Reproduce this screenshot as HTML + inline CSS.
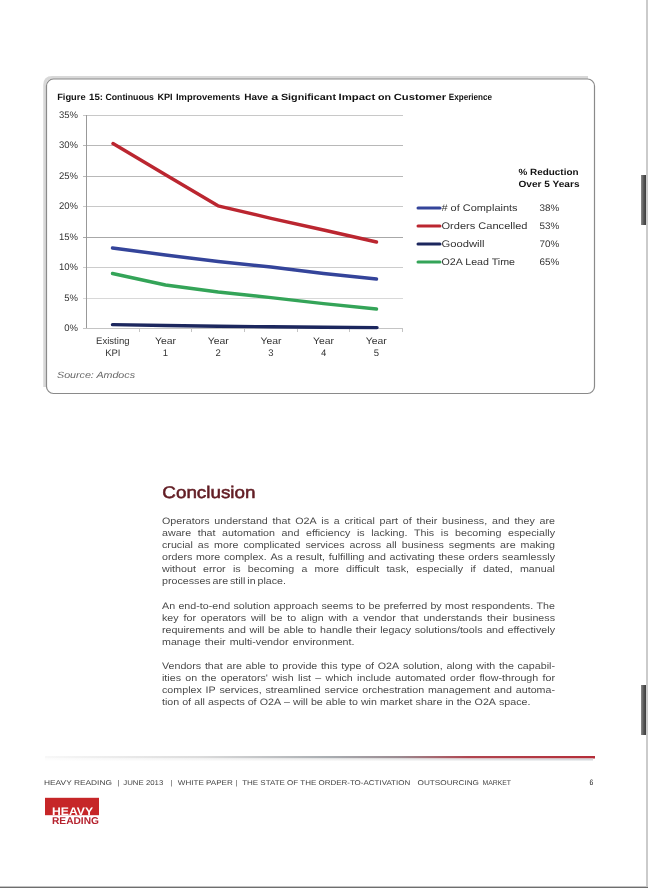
<!DOCTYPE html>
<html><head><meta charset="utf-8">
<style>
html,body{margin:0;padding:0;background:#fff;}
body{width:648px;height:888px;overflow:hidden;position:relative;}
svg{position:absolute;left:0;top:0;will-change:transform;}
text{font-family:"Liberation Sans",sans-serif;text-rendering:geometricPrecision;}
</style></head>
<body>
<svg width="648" height="888" viewBox="0 0 648 888">
  <!-- right edge strip -->
  <rect x="646" y="0" width="2" height="888" fill="#cbcbcb"/>
  <rect x="0" y="886" width="648" height="1" fill="#c4c4c4"/>
  <rect x="0" y="887" width="648" height="1" fill="#6e6e6e"/>
  <rect x="641" y="175" width="5" height="50" fill="url(#bar)"/>
  <rect x="641" y="685" width="5" height="50" fill="url(#bar)"/>

  <!-- figure frame -->
  <path d="M44.75,387 L44.75,85 Q44.75,77.5 52.25,77.5 L588,77.5" fill="none" stroke="#d8d8d8" stroke-width="3"/>
  <rect x="46.5" y="79" width="548" height="314.5" rx="7" ry="7" fill="#fff" stroke="#8a8a8a" stroke-width="1.2"/>

  <g font-size="9" font-weight="bold" fill="#111">
    <text x="57.2" y="99.6" textLength="28.4" lengthAdjust="spacingAndGlyphs">Figure</text>
    <text x="89.1" y="99.6" textLength="14.0" lengthAdjust="spacingAndGlyphs">15:</text>
    <text x="105.4" y="99.6" textLength="48.6" lengthAdjust="spacingAndGlyphs">Continuous</text>
    <text x="157.4" y="99.6" textLength="15.2" lengthAdjust="spacingAndGlyphs">KPI</text>
    <text x="176.0" y="99.6" textLength="64.2" lengthAdjust="spacingAndGlyphs">Improvements</text>
    <text x="244.2" y="99.6" textLength="24.0" lengthAdjust="spacingAndGlyphs">Have</text>
    <text x="271.2" y="99.6" textLength="7.0" lengthAdjust="spacingAndGlyphs">a</text>
    <text x="280.9" y="99.6" textLength="55.1" lengthAdjust="spacingAndGlyphs">Significant</text>
    <text x="338.6" y="99.6" textLength="36.6" lengthAdjust="spacingAndGlyphs">Impact</text>
    <text x="378.0" y="99.6" textLength="13.0" lengthAdjust="spacingAndGlyphs">on</text>
    <text x="393.7" y="99.6" textLength="52.4" lengthAdjust="spacingAndGlyphs">Customer</text>
    <text x="448.8" y="99.6" textLength="43.2" lengthAdjust="spacingAndGlyphs">Experience</text>
  </g>

  <!-- gridlines -->
  <g stroke-width="1">
    <line x1="83" y1="115.5" x2="403" y2="115.5" stroke="#c8c8c8"/>
    <line x1="83" y1="145.5" x2="403" y2="145.5" stroke="#b8b8b8"/>
    <line x1="83" y1="176.5" x2="403" y2="176.5" stroke="#b8b8b8"/>
    <line x1="83" y1="206.5" x2="403" y2="206.5" stroke="#c8c8c8"/>
    <line x1="83" y1="237.5" x2="403" y2="237.5" stroke="#a8a8a8"/>
    <line x1="83" y1="267.5" x2="403" y2="267.5" stroke="#cccccc"/>
    <line x1="83" y1="298.5" x2="403" y2="298.5" stroke="#d8d8d8"/>
  </g>
  <g stroke="#999" stroke-width="1">
    <line x1="86.5" y1="115" x2="86.5" y2="329"/>
  </g>
  <g stroke="#c4c4c4" stroke-width="1">
    <line x1="83" y1="328.5" x2="403" y2="328.5"/>
    <line x1="139.5" y1="328.5" x2="139.5" y2="332"/>
    <line x1="191.5" y1="328.5" x2="191.5" y2="332"/>
    <line x1="244.5" y1="328.5" x2="244.5" y2="332"/>
    <line x1="297.5" y1="328.5" x2="297.5" y2="332"/>
    <line x1="349.5" y1="328.5" x2="349.5" y2="332"/>
    <line x1="402.5" y1="328.5" x2="402.5" y2="332"/>
  </g>
  <g font-size="9.5" fill="#333" text-anchor="end">
    <text x="78" y="117.7">35%</text>
    <text x="78" y="148.2">30%</text>
    <text x="78" y="178.7">25%</text>
    <text x="78" y="209.2">20%</text>
    <text x="78" y="239.7">15%</text>
    <text x="78" y="270.2">10%</text>
    <text x="78" y="300.7">5%</text>
    <text x="78" y="331.2">0%</text>
  </g>
  <g font-size="9.5" fill="#333" text-anchor="middle">
    <text x="112.8" y="344" textLength="33.5" lengthAdjust="spacingAndGlyphs">Existing</text><text x="112.8" y="355.5">KPI</text>
    <text x="165.5" y="344" textLength="21" lengthAdjust="spacingAndGlyphs">Year</text><text x="165.5" y="355.5">1</text>
    <text x="218.2" y="344" textLength="21" lengthAdjust="spacingAndGlyphs">Year</text><text x="218.2" y="355.5">2</text>
    <text x="271" y="344" textLength="21" lengthAdjust="spacingAndGlyphs">Year</text><text x="271" y="355.5">3</text>
    <text x="323.6" y="344" textLength="21" lengthAdjust="spacingAndGlyphs">Year</text><text x="323.6" y="355.5">4</text>
    <text x="376.3" y="344" textLength="21" lengthAdjust="spacingAndGlyphs">Year</text><text x="376.3" y="355.5">5</text>
  </g>
  <text x="57" y="378" font-size="9" font-style="italic" fill="#666" textLength="78" lengthAdjust="spacingAndGlyphs">Source: Amdocs</text>

  <!-- data lines -->
  <g fill="none" stroke-width="3.4" stroke-linejoin="round" stroke-linecap="round">
    <polyline stroke="#bb2630" points="113,143.5 165.5,174.8 218,205.8 271,218.3 323.6,230 376.5,242"/>
    <polyline stroke="#34449a" points="112.5,248 165.5,255 218.2,261.5 271,267 323.6,273.5 376.5,279"/>
    <polyline stroke="#34a458" points="112.5,273.5 165.5,285 218.2,292 271,297.6 323.6,303.6 376.5,309"/>
    <polyline stroke="#1c275e" points="112.5,324.6 165.5,325.5 218.2,326.2 271,326.8 323.6,327.3 377,327.6"/>
  </g>

  <!-- legend -->
  <text x="518.5" y="175" font-size="9" font-weight="bold" fill="#111" textLength="60" lengthAdjust="spacingAndGlyphs">% Reduction</text>
  <text x="518.5" y="187" font-size="9" font-weight="bold" fill="#111" textLength="61" lengthAdjust="spacingAndGlyphs">Over 5 Years</text>
  <g stroke-width="3" stroke-linecap="round">
    <line x1="418" y1="208" x2="440" y2="208" stroke="#34449a"/>
    <line x1="418" y1="226" x2="440" y2="226" stroke="#bb2630"/>
    <line x1="418" y1="244" x2="440" y2="244" stroke="#1c275e"/>
    <line x1="418" y1="262" x2="440" y2="262" stroke="#34a458"/>
  </g>
  <g font-size="9.5" fill="#333">
    <text x="441.5" y="211" textLength="76" lengthAdjust="spacingAndGlyphs"># of Complaints</text>
    <text x="441.5" y="229" textLength="86" lengthAdjust="spacingAndGlyphs">Orders Cancelled</text>
    <text x="441.5" y="247" textLength="43" lengthAdjust="spacingAndGlyphs">Goodwill</text>
    <text x="441.5" y="265" textLength="73.5" lengthAdjust="spacingAndGlyphs">O2A Lead Time</text>
    <text x="539.5" y="211" textLength="19.8" lengthAdjust="spacingAndGlyphs">38%</text>
    <text x="539.5" y="229" textLength="19.8" lengthAdjust="spacingAndGlyphs">53%</text>
    <text x="539.5" y="247" textLength="19.8" lengthAdjust="spacingAndGlyphs">70%</text>
    <text x="539.5" y="265" textLength="19.8" lengthAdjust="spacingAndGlyphs">65%</text>
  </g>

  <!-- Conclusion -->
  <text x="162.3" y="497.6" font-size="16.8" fill="#621d24" stroke="#621d24" stroke-width="0.55" textLength="93.2" lengthAdjust="spacingAndGlyphs">Conclusion</text>

  <g font-size="9.3" fill="#4a4a4a">
    <text x="162.0" y="524" textLength="47.6" lengthAdjust="spacingAndGlyphs">Operators</text>
    <text x="214.3" y="524" textLength="53.5" lengthAdjust="spacingAndGlyphs">understand</text>
    <text x="272.6" y="524" textLength="17.8" lengthAdjust="spacingAndGlyphs">that</text>
    <text x="295.2" y="524" textLength="21.4" lengthAdjust="spacingAndGlyphs">O2A</text>
    <text x="321.3" y="524" textLength="7.7" lengthAdjust="spacingAndGlyphs">is</text>
    <text x="333.8" y="524" textLength="5.9" lengthAdjust="spacingAndGlyphs">a</text>
    <text x="344.5" y="524" textLength="30.3" lengthAdjust="spacingAndGlyphs">critical</text>
    <text x="379.6" y="524" textLength="18.4" lengthAdjust="spacingAndGlyphs">part</text>
    <text x="402.8" y="524" textLength="8.9" lengthAdjust="spacingAndGlyphs">of</text>
    <text x="416.5" y="524" textLength="20.8" lengthAdjust="spacingAndGlyphs">their</text>
    <text x="442.0" y="524" textLength="45.2" lengthAdjust="spacingAndGlyphs">business,</text>
    <text x="492.0" y="524" textLength="17.8" lengthAdjust="spacingAndGlyphs">and</text>
    <text x="514.6" y="524" textLength="20.2" lengthAdjust="spacingAndGlyphs">they</text>
    <text x="539.5" y="524" textLength="15.5" lengthAdjust="spacingAndGlyphs">are</text>
    
    <text x="162.0" y="536" textLength="29.1" lengthAdjust="spacingAndGlyphs">aware</text>
    <text x="197.7" y="536" textLength="17.8" lengthAdjust="spacingAndGlyphs">that</text>
    <text x="222.1" y="536" textLength="52.9" lengthAdjust="spacingAndGlyphs">automation</text>
    <text x="281.6" y="536" textLength="17.8" lengthAdjust="spacingAndGlyphs">and</text>
    <text x="306.0" y="536" textLength="44.4" lengthAdjust="spacingAndGlyphs">efficiency</text>
    <text x="356.9" y="536" textLength="7.7" lengthAdjust="spacingAndGlyphs">is</text>
    <text x="371.2" y="536" textLength="36.3" lengthAdjust="spacingAndGlyphs">lacking.</text>
    <text x="414.0" y="536" textLength="20.2" lengthAdjust="spacingAndGlyphs">This</text>
    <text x="440.8" y="536" textLength="7.7" lengthAdjust="spacingAndGlyphs">is</text>
    <text x="455.1" y="536" textLength="46.4" lengthAdjust="spacingAndGlyphs">becoming</text>
    <text x="508.0" y="536" textLength="47.0" lengthAdjust="spacingAndGlyphs">especially</text>
    
    <text x="162.0" y="548" textLength="30.9" lengthAdjust="spacingAndGlyphs">crucial</text>
    <text x="197.8" y="548" textLength="11.3" lengthAdjust="spacingAndGlyphs">as</text>
    <text x="214.1" y="548" textLength="24.4" lengthAdjust="spacingAndGlyphs">more</text>
    <text x="243.4" y="548" textLength="57.1" lengthAdjust="spacingAndGlyphs">complicated</text>
    <text x="305.4" y="548" textLength="39.2" lengthAdjust="spacingAndGlyphs">services</text>
    <text x="349.6" y="548" textLength="31.5" lengthAdjust="spacingAndGlyphs">across</text>
    <text x="386.0" y="548" textLength="10.7" lengthAdjust="spacingAndGlyphs">all</text>
    <text x="401.7" y="548" textLength="42.2" lengthAdjust="spacingAndGlyphs">business</text>
    <text x="448.8" y="548" textLength="46.4" lengthAdjust="spacingAndGlyphs">segments</text>
    <text x="500.1" y="548" textLength="15.5" lengthAdjust="spacingAndGlyphs">are</text>
    <text x="520.5" y="548" textLength="34.5" lengthAdjust="spacingAndGlyphs">making</text>
    
    <text x="162.0" y="560" textLength="30.3" lengthAdjust="spacingAndGlyphs">orders</text>
    <text x="195.9" y="560" textLength="24.4" lengthAdjust="spacingAndGlyphs">more</text>
    <text x="223.9" y="560" textLength="42.8" lengthAdjust="spacingAndGlyphs">complex.</text>
    <text x="270.4" y="560" textLength="12.5" lengthAdjust="spacingAndGlyphs">As</text>
    <text x="286.5" y="560" textLength="5.9" lengthAdjust="spacingAndGlyphs">a</text>
    <text x="296.0" y="560" textLength="29.1" lengthAdjust="spacingAndGlyphs">result,</text>
    <text x="328.8" y="560" textLength="35.7" lengthAdjust="spacingAndGlyphs">fulfilling</text>
    <text x="368.1" y="560" textLength="17.8" lengthAdjust="spacingAndGlyphs">and</text>
    <text x="389.6" y="560" textLength="45.2" lengthAdjust="spacingAndGlyphs">activating</text>
    <text x="438.4" y="560" textLength="26.2" lengthAdjust="spacingAndGlyphs">these</text>
    <text x="468.2" y="560" textLength="30.3" lengthAdjust="spacingAndGlyphs">orders</text>
    <text x="502.1" y="560" textLength="52.9" lengthAdjust="spacingAndGlyphs">seamlessly</text>
    
    <text x="162.0" y="572" textLength="33.9" lengthAdjust="spacingAndGlyphs">without</text>
    <text x="203.1" y="572" textLength="22.6" lengthAdjust="spacingAndGlyphs">error</text>
    <text x="232.9" y="572" textLength="7.7" lengthAdjust="spacingAndGlyphs">is</text>
    <text x="247.8" y="572" textLength="46.4" lengthAdjust="spacingAndGlyphs">becoming</text>
    <text x="301.4" y="572" textLength="5.9" lengthAdjust="spacingAndGlyphs">a</text>
    <text x="314.6" y="572" textLength="24.4" lengthAdjust="spacingAndGlyphs">more</text>
    <text x="346.1" y="572" textLength="33.1" lengthAdjust="spacingAndGlyphs">difficult</text>
    <text x="386.4" y="572" textLength="22.6" lengthAdjust="spacingAndGlyphs">task,</text>
    <text x="416.2" y="572" textLength="47.0" lengthAdjust="spacingAndGlyphs">especially</text>
    <text x="470.4" y="572" textLength="5.3" lengthAdjust="spacingAndGlyphs">if</text>
    <text x="483.0" y="572" textLength="29.7" lengthAdjust="spacingAndGlyphs">dated,</text>
    <text x="519.9" y="572" textLength="35.1" lengthAdjust="spacingAndGlyphs">manual</text>
    
    <text x="162.0" y="584" textLength="48.7" lengthAdjust="spacingAndGlyphs">processes</text>
    <text x="212.6" y="584" textLength="15.5" lengthAdjust="spacingAndGlyphs">are</text>
    <text x="229.9" y="584" textLength="15.4" lengthAdjust="spacingAndGlyphs">still</text>
    <text x="247.3" y="584" textLength="8.3" lengthAdjust="spacingAndGlyphs">in</text>
    <text x="257.5" y="584" textLength="28.5" lengthAdjust="spacingAndGlyphs">place.</text>
    
    <text x="162.0" y="609" textLength="13.1" lengthAdjust="spacingAndGlyphs">An</text>
    <text x="178.4" y="609" textLength="51.7" lengthAdjust="spacingAndGlyphs">end-to-end</text>
    <text x="233.4" y="609" textLength="36.9" lengthAdjust="spacingAndGlyphs">solution</text>
    <text x="273.6" y="609" textLength="44.6" lengthAdjust="spacingAndGlyphs">approach</text>
    <text x="321.5" y="609" textLength="31.5" lengthAdjust="spacingAndGlyphs">seems</text>
    <text x="356.3" y="609" textLength="8.9" lengthAdjust="spacingAndGlyphs">to</text>
    <text x="368.5" y="609" textLength="11.9" lengthAdjust="spacingAndGlyphs">be</text>
    <text x="383.7" y="609" textLength="43.4" lengthAdjust="spacingAndGlyphs">preferred</text>
    <text x="430.4" y="609" textLength="11.3" lengthAdjust="spacingAndGlyphs">by</text>
    <text x="445.0" y="609" textLength="23.2" lengthAdjust="spacingAndGlyphs">most</text>
    <text x="471.4" y="609" textLength="61.8" lengthAdjust="spacingAndGlyphs">respondents.</text>
    <text x="536.6" y="609" textLength="18.4" lengthAdjust="spacingAndGlyphs">The</text>
    
    <text x="162.0" y="621" textLength="16.6" lengthAdjust="spacingAndGlyphs">key</text>
    <text x="183.5" y="621" textLength="12.5" lengthAdjust="spacingAndGlyphs">for</text>
    <text x="200.8" y="621" textLength="45.2" lengthAdjust="spacingAndGlyphs">operators</text>
    <text x="250.9" y="621" textLength="14.9" lengthAdjust="spacingAndGlyphs">will</text>
    <text x="270.6" y="621" textLength="11.9" lengthAdjust="spacingAndGlyphs">be</text>
    <text x="287.3" y="621" textLength="8.9" lengthAdjust="spacingAndGlyphs">to</text>
    <text x="301.1" y="621" textLength="22.6" lengthAdjust="spacingAndGlyphs">align</text>
    <text x="328.5" y="621" textLength="19.0" lengthAdjust="spacingAndGlyphs">with</text>
    <text x="352.4" y="621" textLength="5.9" lengthAdjust="spacingAndGlyphs">a</text>
    <text x="363.2" y="621" textLength="32.7" lengthAdjust="spacingAndGlyphs">vendor</text>
    <text x="400.7" y="621" textLength="17.8" lengthAdjust="spacingAndGlyphs">that</text>
    <text x="423.4" y="621" textLength="58.9" lengthAdjust="spacingAndGlyphs">understands</text>
    <text x="487.1" y="621" textLength="20.8" lengthAdjust="spacingAndGlyphs">their</text>
    <text x="512.8" y="621" textLength="42.2" lengthAdjust="spacingAndGlyphs">business</text>
    
    <text x="162.0" y="633" textLength="62.4" lengthAdjust="spacingAndGlyphs">requirements</text>
    <text x="228.1" y="633" textLength="17.8" lengthAdjust="spacingAndGlyphs">and</text>
    <text x="249.5" y="633" textLength="14.9" lengthAdjust="spacingAndGlyphs">will</text>
    <text x="268.0" y="633" textLength="11.9" lengthAdjust="spacingAndGlyphs">be</text>
    <text x="283.6" y="633" textLength="20.2" lengthAdjust="spacingAndGlyphs">able</text>
    <text x="307.4" y="633" textLength="8.9" lengthAdjust="spacingAndGlyphs">to</text>
    <text x="320.0" y="633" textLength="32.1" lengthAdjust="spacingAndGlyphs">handle</text>
    <text x="355.7" y="633" textLength="20.8" lengthAdjust="spacingAndGlyphs">their</text>
    <text x="380.2" y="633" textLength="30.9" lengthAdjust="spacingAndGlyphs">legacy</text>
    <text x="414.7" y="633" textLength="67.8" lengthAdjust="spacingAndGlyphs">solutions/tools</text>
    <text x="486.2" y="633" textLength="17.8" lengthAdjust="spacingAndGlyphs">and</text>
    <text x="507.6" y="633" textLength="47.4" lengthAdjust="spacingAndGlyphs">effectively</text>
    
    <text x="162.0" y="645" textLength="38.6" lengthAdjust="spacingAndGlyphs">manage</text>
    <text x="204.8" y="645" textLength="20.8" lengthAdjust="spacingAndGlyphs">their</text>
    <text x="229.7" y="645" textLength="58.8" lengthAdjust="spacingAndGlyphs">multi-vendor</text>
    <text x="292.7" y="645" textLength="61.8" lengthAdjust="spacingAndGlyphs">environment.</text>
    
    <text x="162.0" y="669" textLength="39.2" lengthAdjust="spacingAndGlyphs">Vendors</text>
    <text x="204.9" y="669" textLength="17.8" lengthAdjust="spacingAndGlyphs">that</text>
    <text x="226.5" y="669" textLength="15.5" lengthAdjust="spacingAndGlyphs">are</text>
    <text x="245.6" y="669" textLength="20.2" lengthAdjust="spacingAndGlyphs">able</text>
    <text x="269.5" y="669" textLength="8.9" lengthAdjust="spacingAndGlyphs">to</text>
    <text x="282.2" y="669" textLength="35.1" lengthAdjust="spacingAndGlyphs">provide</text>
    <text x="320.9" y="669" textLength="16.6" lengthAdjust="spacingAndGlyphs">this</text>
    <text x="341.3" y="669" textLength="20.2" lengthAdjust="spacingAndGlyphs">type</text>
    <text x="365.2" y="669" textLength="8.9" lengthAdjust="spacingAndGlyphs">of</text>
    <text x="377.8" y="669" textLength="21.4" lengthAdjust="spacingAndGlyphs">O2A</text>
    <text x="402.9" y="669" textLength="39.8" lengthAdjust="spacingAndGlyphs">solution,</text>
    <text x="446.4" y="669" textLength="26.2" lengthAdjust="spacingAndGlyphs">along</text>
    <text x="476.3" y="669" textLength="19.0" lengthAdjust="spacingAndGlyphs">with</text>
    <text x="499.0" y="669" textLength="14.9" lengthAdjust="spacingAndGlyphs">the</text>
    <text x="517.5" y="669" textLength="37.5" lengthAdjust="spacingAndGlyphs">capabil-</text>
    
    <text x="162.0" y="681" textLength="19.0" lengthAdjust="spacingAndGlyphs">ities</text>
    <text x="185.3" y="681" textLength="11.9" lengthAdjust="spacingAndGlyphs">on</text>
    <text x="201.5" y="681" textLength="14.9" lengthAdjust="spacingAndGlyphs">the</text>
    <text x="220.7" y="681" textLength="47.2" lengthAdjust="spacingAndGlyphs">operators&#x27;</text>
    <text x="272.2" y="681" textLength="21.4" lengthAdjust="spacingAndGlyphs">wish</text>
    <text x="297.9" y="681" textLength="13.1" lengthAdjust="spacingAndGlyphs">list</text>
    <text x="315.2" y="681" textLength="5.9" lengthAdjust="spacingAndGlyphs">–</text>
    <text x="325.5" y="681" textLength="27.3" lengthAdjust="spacingAndGlyphs">which</text>
    <text x="357.1" y="681" textLength="33.9" lengthAdjust="spacingAndGlyphs">include</text>
    <text x="395.3" y="681" textLength="50.5" lengthAdjust="spacingAndGlyphs">automated</text>
    <text x="450.1" y="681" textLength="25.0" lengthAdjust="spacingAndGlyphs">order</text>
    <text x="479.4" y="681" textLength="58.9" lengthAdjust="spacingAndGlyphs">flow-through</text>
    <text x="542.5" y="681" textLength="12.5" lengthAdjust="spacingAndGlyphs">for</text>
    
    <text x="162.0" y="693" textLength="39.8" lengthAdjust="spacingAndGlyphs">complex</text>
    <text x="205.6" y="693" textLength="10.1" lengthAdjust="spacingAndGlyphs">IP</text>
    <text x="219.5" y="693" textLength="42.2" lengthAdjust="spacingAndGlyphs">services,</text>
    <text x="265.5" y="693" textLength="55.3" lengthAdjust="spacingAndGlyphs">streamlined</text>
    <text x="324.6" y="693" textLength="33.9" lengthAdjust="spacingAndGlyphs">service</text>
    <text x="362.3" y="693" textLength="61.8" lengthAdjust="spacingAndGlyphs">orchestration</text>
    <text x="427.9" y="693" textLength="62.4" lengthAdjust="spacingAndGlyphs">management</text>
    <text x="494.1" y="693" textLength="17.8" lengthAdjust="spacingAndGlyphs">and</text>
    <text x="515.8" y="693" textLength="39.2" lengthAdjust="spacingAndGlyphs">automa-</text>
    
    <text x="162.0" y="705" textLength="17.2" lengthAdjust="spacingAndGlyphs">tion</text>
    <text x="182.2" y="705" textLength="8.9" lengthAdjust="spacingAndGlyphs">of</text>
    <text x="194.2" y="705" textLength="10.7" lengthAdjust="spacingAndGlyphs">all</text>
    <text x="207.9" y="705" textLength="36.9" lengthAdjust="spacingAndGlyphs">aspects</text>
    <text x="247.7" y="705" textLength="8.9" lengthAdjust="spacingAndGlyphs">of</text>
    <text x="259.7" y="705" textLength="21.4" lengthAdjust="spacingAndGlyphs">O2A</text>
    <text x="284.1" y="705" textLength="5.9" lengthAdjust="spacingAndGlyphs">–</text>
    <text x="293.0" y="705" textLength="14.9" lengthAdjust="spacingAndGlyphs">will</text>
    <text x="310.9" y="705" textLength="11.9" lengthAdjust="spacingAndGlyphs">be</text>
    <text x="325.8" y="705" textLength="20.2" lengthAdjust="spacingAndGlyphs">able</text>
    <text x="349.0" y="705" textLength="8.9" lengthAdjust="spacingAndGlyphs">to</text>
    <text x="360.9" y="705" textLength="16.0" lengthAdjust="spacingAndGlyphs">win</text>
    <text x="379.9" y="705" textLength="32.7" lengthAdjust="spacingAndGlyphs">market</text>
    <text x="415.6" y="705" textLength="26.8" lengthAdjust="spacingAndGlyphs">share</text>
    <text x="445.4" y="705" textLength="8.3" lengthAdjust="spacingAndGlyphs">in</text>
    <text x="456.7" y="705" textLength="14.9" lengthAdjust="spacingAndGlyphs">the</text>
    <text x="474.6" y="705" textLength="21.4" lengthAdjust="spacingAndGlyphs">O2A</text>
    <text x="499.0" y="705" textLength="31.5" lengthAdjust="spacingAndGlyphs">space.</text>
  </g>

  <!-- footer rule -->
  <defs>
    <linearGradient id="bar" x1="0" x2="1" y1="0" y2="0"><stop offset="0" stop-color="#8a8a8a"/><stop offset="0.5" stop-color="#5a5a5a"/><stop offset="1" stop-color="#3a3a3a"/></linearGradient>
    <linearGradient id="rule" x1="0" x2="1" y1="0" y2="0">
      <stop offset="0" stop-color="#f8f8f8"/>
      <stop offset="0.28" stop-color="#dcdcdc"/>
      <stop offset="0.52" stop-color="#a8acb0"/>
      <stop offset="0.645" stop-color="#9a8a90"/>
      <stop offset="0.77" stop-color="#b04550"/>
      <stop offset="1" stop-color="#b52d38"/>
    </linearGradient>
    <linearGradient id="shade" x1="0" x2="1" y1="0" y2="0">
      <stop offset="0" stop-color="#fdfdfd"/>
      <stop offset="0.6" stop-color="#eeeeee"/>
      <stop offset="1" stop-color="#d4d8dc"/>
    </linearGradient>
  </defs>
  <rect x="45" y="756" width="550" height="2.5" fill="url(#rule)"/>
  <rect x="45" y="758.5" width="548" height="2" fill="url(#shade)"/>

  <g font-size="7" fill="#444">
    <text x="44" y="785" textLength="68" lengthAdjust="spacingAndGlyphs">HEAVY READING</text>
    <text x="117.8" y="785">|</text>
    <text x="123.3" y="785" textLength="40" lengthAdjust="spacingAndGlyphs">JUNE 2013</text>
    <text x="170.6" y="785">|</text>
    <text x="177.8" y="785" textLength="55" lengthAdjust="spacingAndGlyphs">WHITE PAPER</text>
    <text x="235.6" y="785">|</text>
    <text x="242.2" y="785" textLength="168" lengthAdjust="spacingAndGlyphs">THE STATE OF THE ORDER-TO-ACTIVATION</text>
    <text x="417.5" y="785" textLength="61.5" lengthAdjust="spacingAndGlyphs">OUTSOURCING</text>
    <text x="482.5" y="785" textLength="28.5" lengthAdjust="spacingAndGlyphs">MARKET</text>
  </g>
  <text x="589.6" y="785" font-size="8" fill="#222" textLength="3.8" lengthAdjust="spacingAndGlyphs">6</text>

  <!-- logo -->
  <rect x="45" y="797.8" width="54" height="17.4" fill="#c62628"/>
  <text x="52" y="815.3" font-size="11" font-weight="bold" fill="#fff" textLength="41" lengthAdjust="spacingAndGlyphs">HEAVY</text>
  <text x="52" y="824" font-size="10" font-weight="bold" fill="#b5222e" textLength="47" lengthAdjust="spacingAndGlyphs">READING</text>
</svg>
</body></html>
